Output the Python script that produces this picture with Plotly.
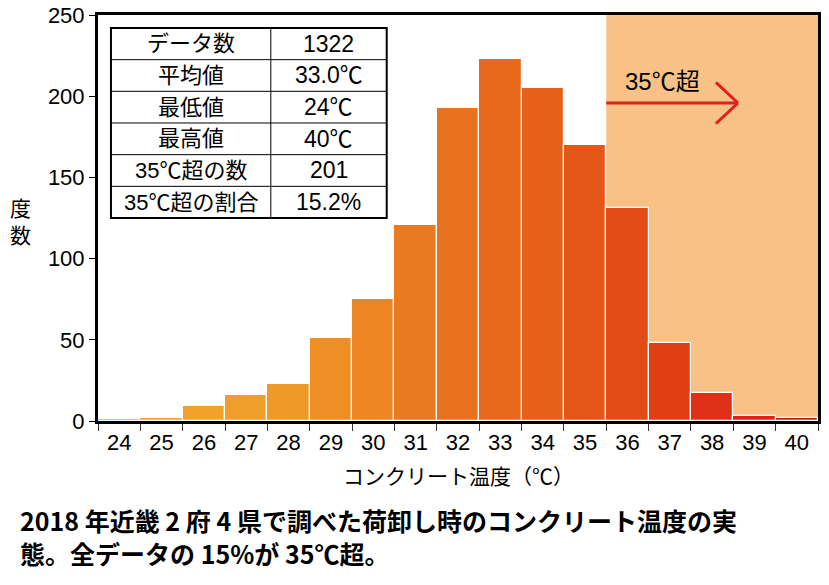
import plotly.graph_objects as go

temps = ["24", "25", "26", "27", "28", "29", "30", "31", "32", "33", "34", "35", "36", "37", "38", "39", "40"]
counts = [1, 2, 9, 16, 23, 51, 75, 121, 193, 223, 205, 170, 131, 48, 17, 3, 2]
bar_colors = ["#F2A52C", "#F3A52A", "#F2A22A", "#F0A02A", "#EF9A27", "#EE8E24", "#EC8522",
              "#EA7A20", "#E9721E", "#E8691C", "#E6601A", "#E55718", "#E34C16", "#E23E14",
              "#E03018", "#D8261A", "#C81E1E"]
table_labels = ["データ数", "平均値", "最低値", "最高値", "35℃超の数", "35℃超の割合"]
table_values = ["1322", "33.0℃", "24℃", "40℃", "201", "15.2%"]

FONT = "Liberation Sans, Arial, Noto Sans CJK JP, sans-serif"
NARROW = "Liberation Sans Narrow, Arial Narrow, Liberation Sans, sans-serif"
JFONT = "Noto Sans CJK JP, sans-serif"

fig = go.Figure()
fig.add_trace(go.Bar(
    x=temps, y=counts,
    marker=dict(color=bar_colors, line=dict(color="white", width=1.2)),
    width=1.0,
))

# shaded 35C+ region
fig.add_shape(type="rect", xref="x", yref="paper", x0=11.5, x1=16.5, y0=0, y1=1,
              fillcolor="#F8C287", line=dict(width=0), layer="below")

# arrow
arrow_col = "#E0201E"
fig.add_shape(type="line", xref="x", yref="y", x0=11.5, y0=195.8, x1=14.61, y1=195.8,
              line=dict(color=arrow_col, width=3))
fig.add_shape(type="line", xref="x", yref="y", x0=14.09, y0=208.5, x1=14.61, y1=195.8,
              line=dict(color=arrow_col, width=3))
fig.add_shape(type="line", xref="x", yref="y", x0=14.09, y0=183.1, x1=14.61, y1=195.8,
              line=dict(color=arrow_col, width=3))
fig.add_annotation(x=12.84, y=209, xref="x", yref="y", text="35℃超", showarrow=False,
                   xanchor="center", yanchor="middle",
                   font=dict(family=FONT, size=24, color="black"))

# stats table
tx0, tx1, txm = 0.018, 0.401, 0.240
ty1, ty0 = 0.968, 0.500
n = len(table_labels)
rh = (ty1 - ty0) / n
fig.add_shape(type="rect", xref="paper", yref="paper", x0=tx0, x1=tx1, y0=ty0, y1=ty1,
              fillcolor="white", line=dict(color="black", width=2))
fig.add_shape(type="line", xref="paper", yref="paper", x0=txm, x1=txm, y0=ty0, y1=ty1,
              line=dict(color="black", width=1))
for i in range(1, n):
    yy = ty1 - i * rh
    fig.add_shape(type="line", xref="paper", yref="paper", x0=tx0, x1=tx1, y0=yy, y1=yy,
                  line=dict(color="black", width=1))
for i, (lab, val) in enumerate(zip(table_labels, table_values)):
    yc = ty1 - (i + 0.5) * rh
    fig.add_annotation(x=(tx0 + txm) / 2, y=yc, xref="paper", yref="paper", text=lab,
                       showarrow=False, xanchor="center", yanchor="middle",
                       font=dict(family=FONT, size=22, color="black"))
    fig.add_annotation(x=(txm + tx1) / 2, y=yc, xref="paper", yref="paper", text=val,
                       showarrow=False, xanchor="center", yanchor="middle",
                       font=dict(family=FONT, size=23, color="black"))

# axis titles
fig.add_annotation(x=0.5, y=-0.133, xref="paper", yref="paper", text="コンクリート温度（℃）",
                   showarrow=False, xanchor="center", yanchor="middle",
                   font=dict(family=JFONT, size=21, color="black"))
fig.add_annotation(x=-0.108, y=0.493, xref="paper", yref="paper", text="度<br>数",
                   showarrow=False, xanchor="center", yanchor="middle",
                   font=dict(family=JFONT, size=21, color="black"))

# caption
cap1 = "2018 年近畿 2 府 4 県で調べた荷卸し時のコンクリート温度の実"
cap2 = "態。全データの 15%が 35℃超。"
fig.add_annotation(x=-0.111, y=-0.2857, xref="paper", yref="paper",
                   text="<b>" + cap1 + "<br>" + cap2 + "</b>",
                   showarrow=False, xanchor="left", yanchor="middle", align="left",
                   font=dict(family=JFONT, size=25, color="black"))

fig.update_layout(
    width=829, height=585,
    margin=dict(l=98, r=11, t=15, b=164, autoexpand=False),
    paper_bgcolor="white", plot_bgcolor="white",
    showlegend=False, bargap=0,
    font=dict(family=FONT, color="black"),
)
fig.update_xaxes(
    type="category", range=[-0.5, 16.5], tickson="boundaries",
    ticks="outside", ticklen=7, tickcolor="#333", tickwidth=1,
    tickfont=dict(family=NARROW, size=22, color="black"),
    showline=True, linecolor="black", linewidth=3, mirror=True,
    showgrid=False, automargin=False,
)
fig.update_yaxes(
    range=[0, 250], tickvals=[0, 50, 100, 150, 200, 250],
    ticks="outside", ticklen=6, tickcolor="black", tickwidth=1,
    tickfont=dict(family=FONT, size=22, color="black"),
    showline=True, linecolor="black", linewidth=3, mirror=True,
    showgrid=False, zeroline=False, automargin=False,
)

fig.write_html("out.html", config={"displayModeBar": False},
               post_script="document.body.style.margin='0';")
